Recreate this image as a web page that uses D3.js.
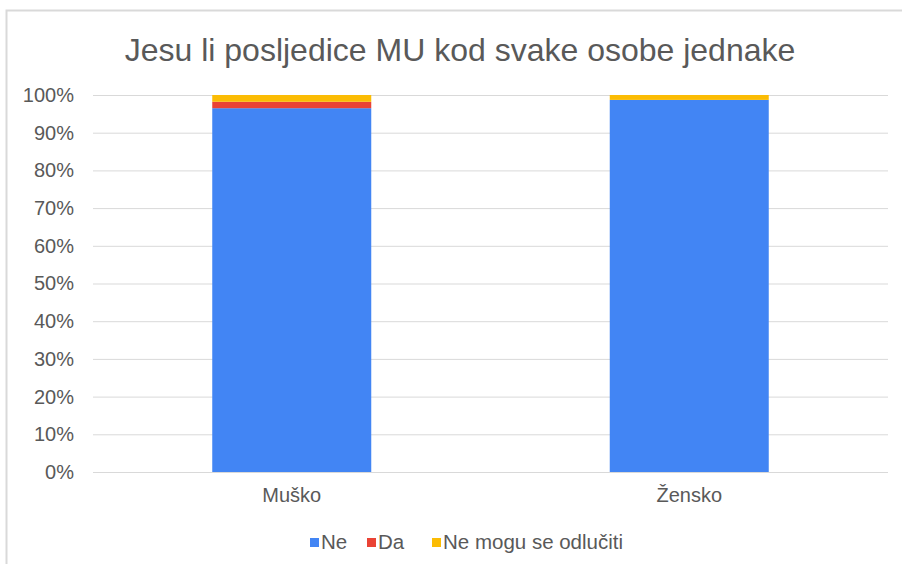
<!DOCTYPE html>
<html>
<head>
<meta charset="utf-8">
<script src="https://cdn.jsdelivr.net/npm/d3@7"></script>
<style>
body { margin: 0; background: #fff; }
svg { font-family: "Liberation Sans", Arial, sans-serif; }
</style>
</head>
<body>
<div id="chart"></div>
<script>
let categories = ['Muško', 'Žensko'];
let seriesNames = ['Ne', 'Da', 'Ne mogu se odlučiti'];
let ne = [0.965, 0.987];
let da = [0.017, 0];
let neMogu = [0.018, 0.013];
let tickValues = [0, 0.1, 0.2, 0.3, 0.4, 0.5, 0.6, 0.7, 0.8, 0.9, 1];
let colors = ['#4285f4', '#ea4335', '#fbbc04'];

let width = 902, height = 564;
let svg = d3.select('#chart').append('svg')
	.attr('width', width)
	.attr('height', height);

// okvir
svg.append('rect')
	.attr('x', 6.5).attr('y', 10.5)
	.attr('width', 910).attr('height', 570)
	.attr('fill', '#fff')
	.attr('stroke', '#d9d9d9')
	.attr('stroke-width', 2);

let x = d3.scaleBand().domain(categories).range([93, 888]).paddingInner(0.6).paddingOuter(0.3);
let y = d3.scaleLinear().domain([0, 1]).range([472, 95]);

let rows = categories.map((c, i) => ({cat: c, 'Ne': ne[i], 'Da': da[i], 'Ne mogu se odlučiti': neMogu[i]}));
let stacked = d3.stack().keys(seriesNames)(rows);

svg.append('text')
	.attr('x', 460).attr('y', 61)
	.attr('text-anchor', 'middle')
	.attr('fill', '#595959')
	.style('font-size', '32px')
	.text('Jesu li posljedice MU kod svake osobe jednake');

// mreža
let yAxis = d3.axisLeft(y).tickValues(tickValues).tickFormat(d3.format('.0%')).tickSize(-(888 - 93)).tickPadding(19);
let ga = svg.append('g').attr('transform', 'translate(93,0)').call(yAxis);
ga.select('.domain').remove();
ga.selectAll('line').attr('stroke', '#d9d9d9');
ga.selectAll('text').attr('fill', '#595959').style('font-size', '20px').attr('font-family', null);

svg.selectAll('g.series').data(stacked).join('g')
	.attr('class', 'series')
	.attr('fill', (d, i) => colors[i])
	.selectAll('rect').data(d => d).join('rect')
	.attr('x', d => x(d.data.cat))
	.attr('width', x.bandwidth())
	.attr('y', d => y(d[1]))
	.attr('height', d => y(d[0]) - y(d[1]));

// x oznake
let xAxis = d3.axisBottom(x).tickSize(0).tickPadding(16);
let gx = svg.append('g').attr('transform', 'translate(0,472)').call(xAxis);
gx.select('.domain').remove();
gx.selectAll('text').attr('fill', '#595959').style('font-size', '20px').attr('font-family', null);

// legenda
let legendX = [310, 367, 432];
let lg = svg.selectAll('g.legend').data(seriesNames).join('g')
	.attr('class', 'legend')
	.attr('transform', (d, i) => 'translate(' + legendX[i] + ',542)');
lg.append('rect').attr('x', 0).attr('y', -4).attr('width', 9).attr('height', 9).attr('fill', (d, i) => colors[i]);
lg.append('text').attr('x', 11).attr('y', 7).attr('fill', '#595959').style('font-size', '20.5px').text(d => d);
</script>
</body>
</html>
